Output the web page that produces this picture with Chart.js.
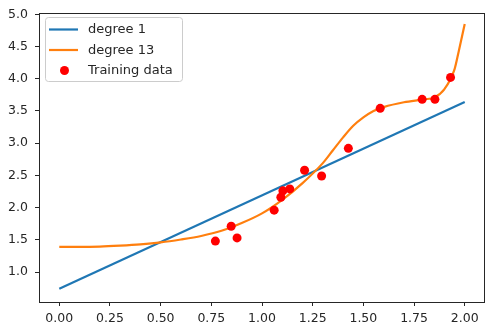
<!DOCTYPE html>
<html>
<head>
<meta charset="utf-8">
<script src="https://cdn.jsdelivr.net/npm/chart.js@4/dist/chart.umd.min.js"></script>
<style>
html,body{margin:0;padding:0;background:#fff;}
canvas{display:block;}
</style>
</head>
<body>
<canvas id="c" width="485" height="324"></canvas>
<script>
// Data
const trainX = [0.77, 0.848, 0.877, 1.06, 1.093, 1.103, 1.137, 1.21, 1.294, 1.426, 1.583, 1.79, 1.853, 1.93];
const trainY = [1.48, 1.71, 1.53, 1.96, 2.16, 2.26, 2.29, 2.58, 2.49, 2.92, 3.54, 3.68, 3.68, 4.02];

const deg1X = [0.0, 2.0];
const deg1Y = [0.74, 3.64];

const deg13X = [0, 0.1, 0.2, 0.3, 0.4, 0.5, 0.6, 0.7, 0.8, 0.9, 1.0, 1.1, 1.2, 1.3, 1.35, 1.4, 1.45, 1.5, 1.55, 1.6, 1.7, 1.8, 1.85, 1.9, 1.95, 1.97, 2.0];
const deg13Y = [1.39, 1.39, 1.395, 1.41, 1.43, 1.46, 1.505, 1.56, 1.64, 1.76, 1.91, 2.12, 2.38, 2.69, 2.89, 3.09, 3.27, 3.40, 3.50, 3.56, 3.635, 3.68, 3.71, 3.84, 4.15, 4.42, 4.85];

const xTicks = [0.00, 0.25, 0.50, 0.75, 1.00, 1.25, 1.50, 1.75, 2.00];
const yTicks = [1.0, 1.5, 2.0, 2.5, 3.0, 3.5, 4.0, 4.5, 5.0];

const labels = ['degree 1', 'degree 13', 'Training data'];

const zip = (xs, ys) => xs.map((x, i) => ({x: x, y: ys[i]}));

const FONT = 'DejaVu Sans';
const TXT = '#262626';
const noPad = () => ({ left: 0, top: 0, right: 0, bottom: 0 });

const framePlugin = {
  id: 'frame',
  afterDraw(chart) {
    const ctx = chart.ctx, a = chart.chartArea;
    ctx.save();
    ctx.strokeStyle = TXT;
    ctx.lineWidth = 1;
    ctx.beginPath();
    ctx.moveTo(a.left, a.top + 0.5);
    ctx.lineTo(a.right, a.top + 0.5);
    ctx.moveTo(a.right - 0.5, a.top);
    ctx.lineTo(a.right - 0.5, a.bottom);
    ctx.stroke();
    ctx.restore();
  }
};

const legendPlugin = {
  id: 'mplLegend',
  afterDraw(chart) {
    const ctx = chart.ctx;
    const x0 = 45.5, y0 = 17.5, w = 137, h = 64;
    ctx.save();
    ctx.fillStyle = 'rgba(255,255,255,0.8)';
    ctx.strokeStyle = '#cccccc';
    ctx.lineWidth = 1;
    ctx.beginPath();
    ctx.roundRect(x0, y0, w, h, 3);
    ctx.fill();
    ctx.stroke();
    ctx.font = '13px ' + FONT;
    ctx.textBaseline = 'middle';
    ctx.fillStyle = TXT;
    const rows = [29.5, 50, 70.5];
    chart.data.datasets.forEach((ds, i) => {
      const yy = rows[i];
      if (ds.showLine === false) {
        ctx.fillStyle = ds.backgroundColor;
        ctx.beginPath();
        ctx.arc(64.5, yy, 4.5, 0, Math.PI * 2);
        ctx.fill();
      } else {
        ctx.strokeStyle = ds.borderColor;
        ctx.lineWidth = 2.2;
        ctx.beginPath();
        ctx.moveTo(49, yy);
        ctx.lineTo(78, yy);
        ctx.stroke();
      }
      ctx.fillStyle = TXT;
      ctx.fillText(ds.label, 88, yy + 0.5);
    });
    ctx.restore();
  }
};

new Chart(document.getElementById('c'), {
  type: 'scatter',
  data: {
    datasets: [
      {
        label: labels[0],
        data: zip(deg1X, deg1Y),
        showLine: true,
        borderColor: '#1f77b4',
        backgroundColor: '#1f77b4',
        borderWidth: 2.2,
        pointRadius: 0,
        order: 3
      },
      {
        label: labels[1],
        data: zip(deg13X, deg13Y),
        showLine: true,
        borderColor: '#ff7f0e',
        backgroundColor: '#ff7f0e',
        borderWidth: 2.2,
        pointRadius: 0,
        cubicInterpolationMode: 'monotone',
        order: 2
      },
      {
        label: labels[2],
        data: zip(trainX, trainY),
        showLine: false,
        backgroundColor: 'red',
        borderColor: 'red',
        borderWidth: 0,
        pointRadius: 4.5,
        order: 1
      }
    ]
  },
  options: {
    responsive: false,
    animation: false,
    events: [],
    layout: { autoPadding: false, padding: { top: 13, right: 0, left: 0, bottom: 0 } },
    plugins: { legend: { display: false }, tooltip: { enabled: false } },
    scales: {
      x: {
        type: 'linear',
        min: -0.1,
        max: 2.1,
        afterBuildTicks: s => { s.ticks = xTicks.map(v => ({ value: v })); },
        afterFit: s => { s.height = 22; s.paddingLeft = 0; s.paddingRight = 0; s.getPadding = noPad; },
        ticks: {
          callback: v => Number(v).toFixed(2),
          font: { family: FONT, size: 12.5 },
          color: TXT,
          padding: 5,
          maxRotation: 0,
          autoSkip: false
        },
        grid: { display: true, drawOnChartArea: false, drawTicks: true, tickLength: 4, color: TXT },
        border: { display: true, color: TXT, width: 1 }
      },
      y: {
        type: 'linear',
        min: 0.535,
        max: 5.02,
        afterBuildTicks: s => { s.ticks = yTicks.map(v => ({ value: v })); },
        afterFit: s => { s.width = 39; s.paddingTop = 0; s.paddingBottom = 0; s.getPadding = noPad; },
        ticks: {
          callback: v => Number(v).toFixed(1),
          font: { family: FONT, size: 12.5 },
          color: TXT,
          padding: 7,
          autoSkip: false
        },
        grid: { display: true, drawOnChartArea: false, drawTicks: true, tickLength: 4, color: TXT },
        border: { display: true, color: TXT, width: 1 }
      }
    }
  },
  plugins: [framePlugin, legendPlugin]
});
</script>
</body>
</html>
